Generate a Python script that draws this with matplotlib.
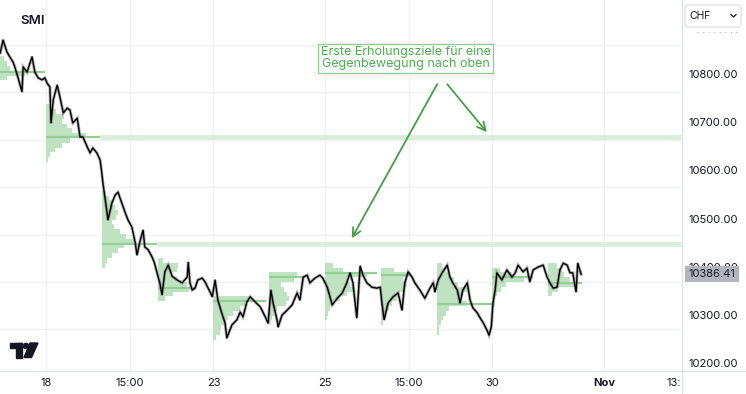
import matplotlib
matplotlib.use("Agg")
import matplotlib.pyplot as plt
import matplotlib.transforms as mtransforms
from matplotlib.patches import Rectangle, Circle, Polygon, FancyBboxPatch
from matplotlib.lines import Line2D

plt.rcParams['font.family'] = ['Inter', 'DejaVu Sans']

# time axis is in trading sessions (0 = 18 Oct 2023 open)
t = [-0.82, -0.77, -0.70, -0.65, -0.59, -0.56, -0.50, -0.43, -0.41, -0.34, -0.25, -0.20, -0.14, -0.07, -0.02,
     0.02, 0.07, 0.09, 0.13, 0.20, 0.25, 0.31, 0.38, 0.43, 0.48, 0.56, 0.61, 0.66, 0.74, 0.79, 0.84, 0.91, 0.97,
     1.00, 1.02, 1.08, 1.11, 1.18, 1.24, 1.29, 1.36, 1.42, 1.47, 1.54, 1.60, 1.63, 1.69, 1.74, 1.77, 1.83, 1.90, 1.94,
     2.01, 2.04, 2.08, 2.13, 2.19, 2.26, 2.35, 2.44, 2.53, 2.55, 2.58, 2.62, 2.67, 2.72, 2.80, 2.85, 2.94, 2.98,
     3.03, 3.08, 3.15, 3.21, 3.24, 3.33, 3.42, 3.48, 3.53, 3.60, 3.66, 3.75, 3.84, 3.93, 3.98,
     4.03, 4.07, 4.14, 4.16, 4.23, 4.32, 4.41, 4.50, 4.55, 4.61, 4.68, 4.73, 4.82, 4.91, 4.96,
     5.04, 5.13, 5.22, 5.31, 5.39, 5.45, 5.50, 5.57, 5.63, 5.68, 5.75, 5.84, 5.93, 5.99,
     6.02, 6.06, 6.13, 6.22, 6.31, 6.38, 6.43, 6.49, 6.56, 6.61, 6.70, 6.79, 6.88, 6.94, 6.97,
     7.03, 7.10, 7.19, 7.24, 7.29, 7.37, 7.42, 7.47, 7.55, 7.60, 7.65, 7.72, 7.78, 7.83, 7.90, 7.94, 7.98,
     8.01, 8.05, 8.08, 8.17, 8.26, 8.35, 8.41, 8.46, 8.55, 8.62, 8.67, 8.73, 8.82, 8.91, 8.98,
     9.03, 9.09, 9.16, 9.21, 9.27, 9.34, 9.39, 9.44, 9.50, 9.53, 9.59]
price = [10847, 10874, 10849, 10839, 10828, 10818, 10795, 10766, 10818, 10807, 10839, 10807, 10795, 10791, 10795,
         10784, 10776, 10701, 10749, 10780, 10755, 10722, 10732, 10728, 10701, 10711, 10672, 10672, 10651, 10639, 10649, 10639, 10624,
         10597, 10576, 10526, 10499, 10534, 10551, 10557, 10534, 10514, 10499, 10484, 10451, 10426, 10457, 10478, 10443, 10437, 10422, 10411,
         10380, 10368, 10343, 10391, 10405, 10382, 10374, 10368, 10380, 10411, 10368, 10353, 10357, 10374, 10378, 10370, 10349, 10339,
         10374, 10332, 10305, 10284, 10253, 10280, 10291, 10307, 10297, 10328, 10339, 10328, 10318, 10297, 10284,
         10353, 10326, 10291, 10276, 10301, 10311, 10322, 10347, 10332, 10380, 10384, 10368, 10378, 10384, 10378,
         10359, 10322, 10336, 10347, 10368, 10389, 10368, 10295, 10403, 10384, 10368, 10359, 10357, 10359,
         10326, 10291, 10326, 10339, 10347, 10311, 10368, 10391, 10380, 10368, 10353, 10336, 10357, 10368, 10349,
         10374, 10389, 10405, 10380, 10368, 10353, 10326, 10353, 10368, 10332, 10316, 10307, 10295, 10286, 10270, 10259, 10276,
         10326, 10353, 10389, 10374, 10395, 10380, 10389, 10405, 10391, 10399, 10370, 10395, 10401, 10405, 10380,
         10368, 10357, 10359, 10395, 10409, 10405, 10389, 10389, 10349, 10409, 10386]
last_price = 10386.41

# session volume profiles (start session, top of first bin, widths per 10-pt bin as share of a session)
prof_start = [-1, 0, 1, 2, 3, 4, 5, 6, 7, 8, 9]
prof_top = [10850, 10740, 10560, 10420, 10340, 10390, 10410, 10400, 10410, 10400, 10410]
prof_width = [
    [0.14, 0.25, 0.30, 0.36, 0.63, 0.30, 0.18],
    [0.07, 0.18, 0.32, 0.29, 0.38, 0.47, 0.72, 0.43, 0.29, 0.16, 0.07, 0.04],
    [0.07, 0.13, 0.18, 0.23, 0.29, 0.25, 0.18, 0.22, 0.32, 0.43, 0.57, 0.39, 0.29, 0.18, 0.09, 0.05],
    [0.09, 0.36, 0.34, 0.25, 0.34, 0.52, 0.57, 0.27, 0.13],
    [0.63, 0.59, 0.48, 0.36, 0.27, 0.22, 0.14, 0.11, 0.05],
    [0.50, 0.45, 0.22, 0.27, 0.32, 0.36, 0.30, 0.14, 0.09, 0.05, 0.04],
    [0.14, 0.32, 0.75, 0.39, 0.45, 0.54, 0.39, 0.27, 0.14, 0.09, 0.05, 0.04],
    [0.23, 0.45, 0.39, 0.47, 0.43, 0.32, 0.29, 0.20, 0.14, 0.09, 0.05, 0.04],
    [0.09, 0.16, 0.23, 0.32, 0.39, 0.54, 0.47, 0.39, 0.54, 0.23, 0.16, 0.11, 0.07, 0.05, 0.05],
    [0.14, 0.36, 0.57, 0.25, 0.16, 0.09, 0.05, 0.04],
    [0.16, 0.25, 0.29, 0.39, 0.50, 0.18, 0.07],
]
prof_poc = [10807, 10672, 10450, 10357, 10331, 10381, 10388, 10384, 10324, 10380, 10368]
prof_poc_w = [0.98, 0.97, 0.99, 0.66, 0.95, 0.65, 0.93, 0.52, 0.99, 0.73, 0.61]
naked_poc = [0, 1]   # POCs still open -> extended to the right
bin_size = 10

x_ticks = [0, 1.5, 3, 5, 6.5, 8, 10, 11.38]
x_labels = ["18", "15:00", "23", "25", "15:00", "30", "Nov", "13:00"]
y_ticks = [10800, 10700, 10600, 10500, 10400, 10300, 10200]
grid_levels = [10864, 10766, 10666, 10568, 10468, 10370, 10272]

W, H = 746, 394
fig = plt.figure(figsize=(W / 100, H / 100), dpi=100)
fig.patch.set_facecolor('white')

ax = fig.add_axes([0, 23 / H, 681 / W, 371 / H])
ax.set_xlim(-0.8244, 11.38)
ax.set_ylim(10184.4, 10957.3)
for s in ax.spines.values():
    s.set_visible(False)
ax.set_yticks([])
ax.set_xticks(x_ticks)
ax.set_xticklabels(x_labels, fontsize=8, color='#131722')
ax.tick_params(axis='x', length=0, pad=5)
for lab in ax.get_xticklabels():
    if lab.get_text() == "Nov":
        lab.set_fontweight('bold')

gc = '#f0f1f4'
for xt in x_ticks[:-1]:
    ax.axvline(xt, color=gc, lw=1, zorder=0)
for g in grid_levels:
    ax.axhline(g, color=gc, lw=1, zorder=0)

# volume profiles
xmax = ax.get_xlim()[1]
for i in range(len(prof_start)):
    ws = prof_width[i]
    lows = [prof_top[i] - (k + 1) * bin_size for k in range(len(ws))]
    ax.barh(lows, ws, height=bin_size, left=prof_start[i], align='edge',
            color='#bfe2c0', edgecolor='none', zorder=1)
    ax.hlines(prof_poc[i], prof_start[i], prof_start[i] + prof_poc_w[i], color='#93cf95', lw=1.6, zorder=2)
    if i - 1 in naked_poc:
        ax.hlines(prof_poc[i], prof_start[i] + prof_poc_w[i], xmax, color='#d9eeda', lw=3.5, zorder=1)

# price
ax.plot(t, price, color='#7a7a7a', lw=2.2, alpha=0.6, zorder=3, solid_joinstyle='miter')
ax.plot(t, price, color='black', lw=1.0, zorder=4)

# annotation
green = '#4caf50'
ax.text(6.45, 10836, "Erste Erholungsziele für eine\nGegenbewegung nach oben", ha='center', va='center',
        fontsize=9, color=green, linespacing=1.0, zorder=6,
        bbox=dict(boxstyle='square,pad=0.2', facecolor='white', edgecolor='#8fcb90', lw=0.9))
arrow = dict(arrowstyle='->,head_length=0.6,head_width=0.3', color='#43a047', lw=1.3, shrinkA=0, shrinkB=0)
ax.annotate('', xy=(5.48, 10461), xytext=(7.01, 10782), arrowprops=arrow, zorder=6)
ax.annotate('', xy=(7.90, 10682), xytext=(7.19, 10782), arrowprops=arrow, zorder=6)

# price scale panel
ax2 = fig.add_axes([681 / W, 0, 65 / W, 1], zorder=2)
ax2.set_facecolor('white')
ax2.set_xlim(0, 1)
ax2.set_ylim(10136.46, 10957.29)
ax2.set_xticks([])
ax2.set_yticks([])
for s in ax2.spines.values():
    s.set_visible(False)
tr = mtransforms.blended_transform_factory(ax2.transAxes, ax2.transData)
for v in y_ticks:
    ax2.text(0.12, v, f"{v:.2f}", transform=tr, ha='left', va='center', fontsize=8, color='#131722')
ax2.text(0.12, last_price, f"{last_price:.2f}", transform=tr, ha='left', va='center', fontsize=8,
         color='#131722', bbox=dict(boxstyle='square,pad=0.3', facecolor='#b2b5be', edgecolor='none'))

# chrome in pixel coords
idt = mtransforms.IdentityTransform()


def px(x, y):
    return (x, H - y)


fig.add_artist(Line2D([0, W], [H - 371, H - 371], transform=idt, color='#e0e3eb', lw=1, zorder=10))
fig.add_artist(Line2D([681.5, 681.5], [0, H], transform=idt, color='#e0e3eb', lw=1, zorder=10))
fig.text(*px(20, 21), "SMI", transform=idt, fontsize=9.5, fontweight='semibold', color='#131722', va='center')

fig.add_artist(FancyBboxPatch(px(685, 27), 56, 22, boxstyle='round,pad=0,rounding_size=4', transform=idt,
                              facecolor='white', edgecolor='#e0e3eb', lw=1, zorder=10))
fig.text(*px(689, 16), "CHF", transform=idt, fontsize=7.5, color='#131722', va='center', zorder=11)
fig.add_artist(Line2D([731, 733.5, 736], [H - 14.5, H - 17, H - 14.5], transform=idt, color='#131722', lw=0.9, zorder=11))
fig.add_artist(Line2D([697, 737], [H - 31.5, H - 31.5], transform=idt, color='#b2b5be', lw=0.8,
                      linestyle=(0, (1, 4)), zorder=11))

# TradingView logo
fig.add_artist(Rectangle(px(10, 348), 12, 5, transform=idt, color='#131722', zorder=10))
fig.add_artist(Rectangle(px(16, 357.5), 6, 14.5, transform=idt, color='#131722', zorder=10))
fig.add_artist(Circle(px(26, 346), 2.6, transform=idt, color='#131722', zorder=10))
fig.add_artist(Polygon([px(30, 343), px(38, 343), px(31.5, 357.5), px(24, 357.5)], closed=True,
                       transform=idt, color='#131722', zorder=10))

fig.savefig('out.png', dpi=100)
